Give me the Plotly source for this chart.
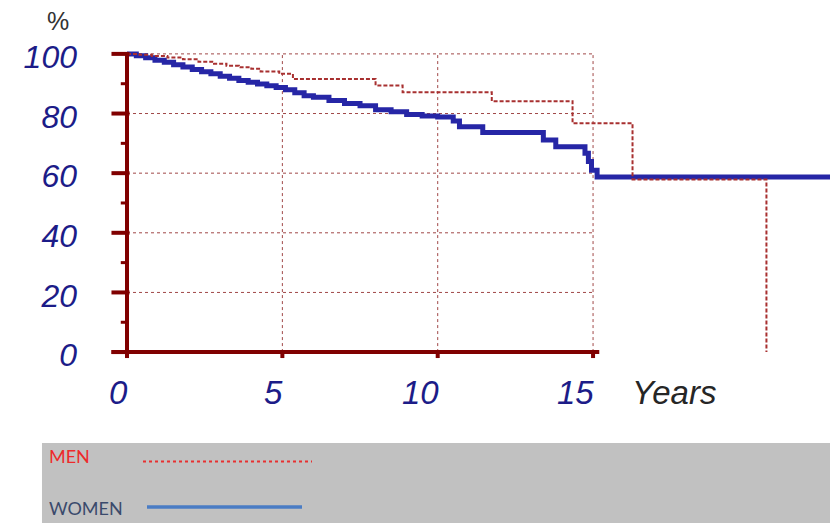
import plotly.graph_objects as go

# Survival curves (percentage alive over follow-up years)
women_years = [0, 0.3, 0.6, 0.9, 1.2, 1.5, 1.8, 2.1, 2.4, 2.7,
               3.0, 3.3, 3.6, 3.9, 4.2, 4.5, 4.8, 5.1, 5.4, 5.7,
               6.0, 6.5, 7.0, 7.5, 8.0, 8.5, 9.0, 9.5, 10.0, 10.5,
               10.7, 11.45, 13.4, 13.8, 14.74, 14.85, 14.95, 15.13, 23.0]
women_surv = [100, 99.4, 98.7, 97.9, 97.2, 96.4, 95.6, 94.8, 94.0, 93.3,
              92.5, 91.8, 91.1, 90.5, 89.9, 89.3, 88.7, 88.0, 87.0, 86.0,
              85.5, 84.4, 83.4, 82.6, 81.3, 80.6, 79.7, 79.2, 78.8, 77.5,
              75.6, 73.6, 71.1, 68.9, 66.7, 63.9, 61.0, 58.7, 58.7]

men_years = [0, 0.4, 0.8, 1.3, 1.8, 2.3, 2.8, 3.2, 3.6, 4.0,
             4.3, 4.9, 5.34, 8.0, 8.87, 11.74, 14.34, 16.27, 20.58]
men_surv = [100, 99.7, 99.3, 98.8, 98.2, 97.4, 96.7, 96.0, 95.5, 95.0,
            94.1, 93.3, 91.6, 89.4, 87.1, 84.1, 76.7, 57.9, 0]

y_ticks = [0, 20, 40, 60, 80, 100]
y_minor = [10, 30, 50, 70, 90]
x_ticks = [0, 5, 10, 15]
x_tick_labels = ["0", "5", "10", "15"]
grid_y = [20, 40, 60, 80, 100]
grid_x = [5, 10, 15]

AXIS = "#800000"
GRID = "#a04848"
LABEL = "#1c1c88"
FONT = "Liberation Sans"

fig = go.Figure()

fig.add_trace(go.Scatter(
    x=women_years, y=women_surv, mode="lines", line_shape="hv",
    line=dict(color="#2626a6", width=5), name="WOMEN", showlegend=False))
fig.add_trace(go.Scatter(
    x=men_years, y=men_surv, mode="lines", line_shape="hv",
    line=dict(color="#a83030", width=2, dash="4px,2px"), name="MEN",
    showlegend=False))

shapes = []
# dotted grid, limited to the 0-15 year frame
for gy in grid_y:
    shapes.append(dict(type="line", xref="x", yref="y", x0=0, x1=15, y0=gy, y1=gy,
                       line=dict(color=GRID, width=1, dash="dot"), layer="below"))
for gx in grid_x:
    shapes.append(dict(type="line", xref="x", yref="y", x0=gx, x1=gx, y0=0, y1=100,
                       line=dict(color=GRID, width=1, dash="dot"), layer="below"))
# heavy axes
shapes.append(dict(type="line", xref="x", yref="y", x0=0, x1=0, y0=-2, y1=100,
                   line=dict(color=AXIS, width=4)))
shapes.append(dict(type="line", xref="x", yref="y", x0=-0.5, x1=15.2, y0=0, y1=0,
                   line=dict(color=AXIS, width=4)))
for t in y_ticks:
    shapes.append(dict(type="line", xref="x", yref="y", x0=-0.5, x1=0.08, y0=t, y1=t,
                       line=dict(color=AXIS, width=4)))
for t in y_minor:
    shapes.append(dict(type="line", xref="x", yref="y", x0=-0.2, x1=0, y0=t, y1=t,
                       line=dict(color=AXIS, width=3)))
for t in x_ticks:
    shapes.append(dict(type="line", xref="x", yref="y", x0=t, x1=t, y0=0, y1=-2,
                       line=dict(color=AXIS, width=4)))

# legend panel below the chart
shapes.append(dict(type="rect", xref="paper", yref="paper",
                   x0=-0.0649, x1=1.0, y0=-0.2409, y1=-0.49,
                   fillcolor="#c1c1c1", line=dict(width=0), layer="below"))
shapes.append(dict(type="line", xref="paper", yref="paper",
                   x0=(143 - 90) / 740, x1=(312 - 90) / 740,
                   y0=(364 - 461.5) / 328, y1=(364 - 461.5) / 328,
                   line=dict(color="#e83030", width=2, dash="dot")))
shapes.append(dict(type="line", xref="paper", yref="paper",
                   x0=(147 - 90) / 740, x1=(302 - 90) / 740,
                   y0=(364 - 507) / 328, y1=(364 - 507) / 328,
                   line=dict(color="#4a7cc4", width=3.5)))

annotations = []
for xv, txt in zip(x_ticks, x_tick_labels):
    annotations.append(dict(x=xv, xref="x", y=(364 - 392) / 328, yref="paper",
                            text=txt, showarrow=False, xanchor="right", yanchor="middle",
                            xshift=3,
                            font=dict(family=FONT, size=33, color=LABEL, style="italic")))
annotations.append(dict(x=(630 - 90) / 740, xref="paper", y=(364 - 392) / 328, yref="paper",
                        text="Years", showarrow=False, xanchor="left", yanchor="middle",
                        font=dict(family=FONT, size=33, color="#262626", style="italic")))
annotations.append(dict(x=(58 - 90) / 740, xref="paper", y=(364 - 21) / 328, yref="paper",
                        text="%", showarrow=False, xanchor="center", yanchor="middle",
                        font=dict(family=FONT, size=25, color="#333333")))
annotations.append(dict(x=(47 - 90) / 740, xref="paper", y=(364 - 456) / 328, yref="paper",
                        text="MEN", showarrow=False, xanchor="left", yanchor="middle",
                        font=dict(family="Lato", size=18, color="#ee2a2a")))
annotations.append(dict(x=(47 - 90) / 740, xref="paper", y=(364 - 508) / 328, yref="paper",
                        text="WOMEN", showarrow=False, xanchor="left", yanchor="middle",
                        font=dict(family="Lato", size=18, color="#3a4a6c")))

fig.update_layout(
    width=830, height=523,
    margin=dict(l=90, r=0, t=36, b=159, pad=0),
    paper_bgcolor="white", plot_bgcolor="white",
    shapes=shapes, annotations=annotations,
    xaxis=dict(range=[-1.191, 22.626], showgrid=False, zeroline=False,
               showline=False, showticklabels=False, ticks=""),
    yaxis=dict(range=[-4, 106], showgrid=False, zeroline=False, showline=False,
               tickvals=y_ticks, ticktext=[str(v) for v in y_ticks], ticks="",
               ticklabelstandoff=12, ticklabelshift=3,
               tickfont=dict(family=FONT, size=32, color=LABEL, style="italic")),
)

fig.write_html("out.html")
